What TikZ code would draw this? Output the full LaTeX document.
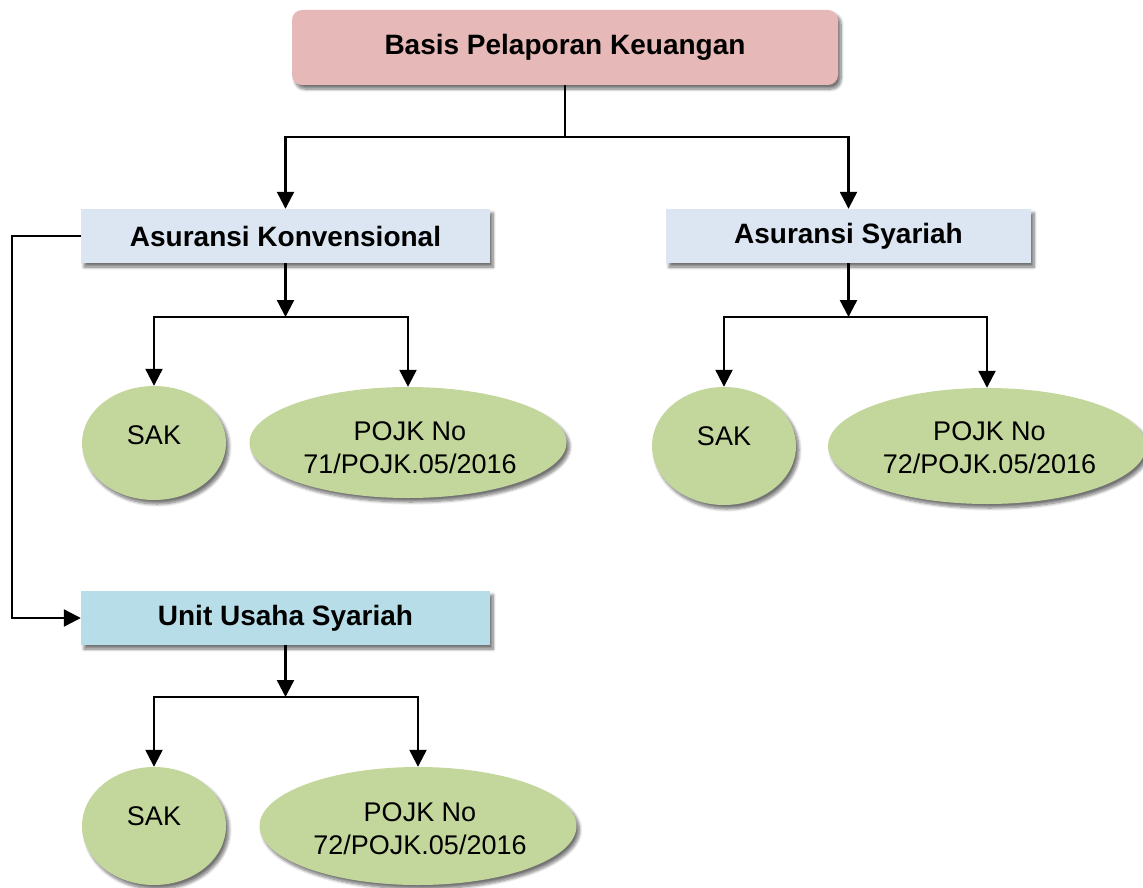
\documentclass[tikz,border=0pt]{standalone}
\usepackage{fontspec}
\setmainfont{Liberation Sans}
\usetikzlibrary{arrows.meta,shapes.geometric,shadows.blur}
\definecolor{topfill}{HTML}{E6B8B7}
\definecolor{boxfill}{HTML}{DCE6F2}
\definecolor{uusfill}{HTML}{B7DEE8}
\definecolor{ellfill}{HTML}{C3D69B}
\begin{document}
\begin{tikzpicture}[x=1pt,y=-1pt,
  shad/.style={blur shadow={shadow xshift=3pt,shadow yshift=-4pt,shadow blur radius=3pt,shadow blur steps=8,shadow opacity=55}},
  topbox/.style={rectangle,rounded corners=10pt,fill=topfill,minimum width=546pt,minimum height=75pt,inner sep=0pt,font=\fontsize{28}{32}\selectfont\bfseries,shad},
  catbox/.style={rectangle,fill=boxfill,minimum width=409pt,minimum height=54pt,inner sep=0pt,font=\fontsize{28}{32}\selectfont\bfseries,shad},
  ell/.style={ellipse,fill=ellfill,inner sep=0pt,shad},
  etext/.style={inner sep=0pt,align=center,font=\fontsize{27}{33.3}\selectfont},
  conn/.style={line width=2.3pt},
  arr/.style={conn,-{Triangle[length=17pt,width=17pt]}}
]
\useasboundingbox (0,0) rectangle (1143,888);

% boxes
\node[topbox] (basis) at (565,47.5) {Basis Pelaporan Keuangan};
\node[catbox] (ak) at (285.5,236) {Asuransi Konvensional};
\node[catbox,minimum width=365pt] (as) at (848.5,236) {Asuransi Syariah};
\node[catbox,fill=uusfill] (uus) at (285.5,618) {Unit Usaha Syariah};

% ellipses
\node[ell,minimum width=144pt,minimum height=114pt] (sak1) at (154,443) {};
\node[ell,minimum width=317pt,minimum height=111pt] (pojk1) at (408,442.5) {};
\node[ell,minimum width=144pt,minimum height=118pt] (sak2) at (724,446) {};
\node[ell,minimum width=318pt,minimum height=116pt] (pojk2) at (987,446) {};
\node[ell,minimum width=144pt,minimum height=118pt] (sak3) at (154,826) {};
\node[ell,minimum width=317pt,minimum height=118pt] (pojk3) at (418,826) {};

% ellipse texts
\node[etext] (sak1t) at (154,435) {SAK};
\node[etext] (pojk1t) at (410,448) {POJK No\\71/POJK.05/2016};
\node[etext] (sak2t) at (724,436) {SAK};
\node[etext] (pojk2t) at (989.5,448) {POJK No\\72/POJK.05/2016};
\node[etext] (sak3t) at (154,816) {SAK};
\node[etext] (pojk3t) at (420,829) {POJK No\\72/POJK.05/2016};

% junctions
\coordinate (j0) at (565,137);
\coordinate (j1) at (285.5,317);
\coordinate (j3) at (848.5,317);
\coordinate (j2) at (285.5,697);
\coordinate (lp) at (12,236);

% connectors
\draw[conn] (basis.south) -- (j0);
\draw[arr] (j0) -| (ak.north);
\draw[arr] (j0) -| (as.north);

\draw[arr] (ak.south) -- (j1);
\draw[arr] (j1) -| (sak1.north);
\draw[arr] (j1) -| (pojk1.north);

\draw[arr] (as.south) -- (j3);
\draw[arr] (j3) -| (sak2.north);
\draw[arr] (j3) -| (pojk2.north);

\draw[arr] (ak.west) -- (lp) |- (uus.west);

\draw[arr] (uus.south) -- (j2);
\draw[arr] (j2) -| (sak3.north);
\draw[arr] (j2) -| (pojk3.north);
\end{tikzpicture}
\end{document}
